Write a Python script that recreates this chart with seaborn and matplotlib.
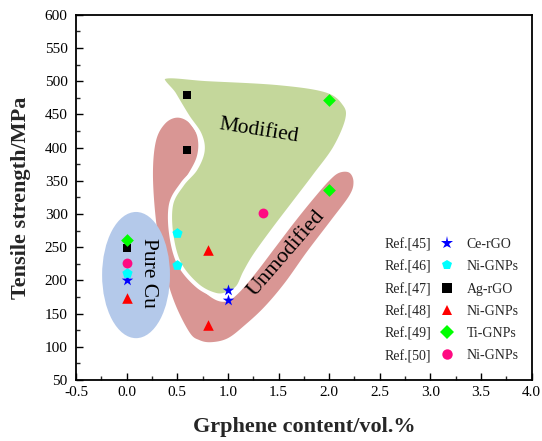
import numpy as np
import pandas as pd
import matplotlib
matplotlib.use("Agg")
import matplotlib.pyplot as plt
from matplotlib.patches import Ellipse
from matplotlib.lines import Line2D
import seaborn as sns

# ---------------- data ----------------
refs = ["Ref.[45]", "Ref.[46]", "Ref.[47]", "Ref.[48]", "Ref.[49]", "Ref.[50]"]
materials = ["Ce-rGO", "Ni-GNPs", "Ag-rGO", "Ni-GNPs", "Ti-GNPs", "Ni-GNPs"]
x_45 = [0.0, 1.0, 1.0]
y_45 = [200, 186, 171]
x_46 = [0.0, 0.5, 0.5]
y_46 = [211, 271, 223]
x_47 = [0.0, 0.6, 0.6]
y_47 = [249, 479, 397]
x_48 = [0.0, 0.8, 0.8]
y_48 = [174, 246, 133]
x_49 = [0.0, 2.0, 2.0]
y_49 = [261, 471, 336]
x_50 = [0.0, 1.35]
y_50 = [226, 301]

xs = [x_45, x_46, x_47, x_48, x_49, x_50]
ys = [y_45, y_46, y_47, y_48, y_49, y_50]
colors = ["#0000FF", "#00FFFF", "#000000", "#FF0000", "#00FF00", "#FF0A82"]
markers = ["*", "p", "s", "^", "D", "o"]
msizes = [75, 60, 38, 58, 42, 50]

# region outlines (data coordinates, smoothed below)
modified_x = [0.37, 0.80, 1.50, 1.97, 2.15, 2.18, 2.06, 1.86, 1.66, 1.45, 1.27, 1.17, 1.10,
              1.00, 0.88, 0.70, 0.52, 0.44, 0.44, 0.55, 0.68, 0.75, 0.72, 0.60, 0.47]
modified_y = [506, 503, 497, 486, 466, 443, 400, 358, 318, 276, 238, 212, 190,
              180, 178, 192, 225, 270, 315, 345, 368, 395, 420, 447, 480]
unmod_x = [0.84, 1.00, 1.17, 1.36, 1.56, 1.78, 2.02, 2.20, 2.24, 2.20, 2.10, 2.00, 1.84, 1.66,
           1.46, 1.27, 1.10, 0.98, 0.84, 0.66, 0.52, 0.46, 0.47, 0.57, 0.69, 0.70, 0.62,
           0.50, 0.38, 0.29, 0.26, 0.29, 0.36, 0.47, 0.62, 0.72]
unmod_y = [107, 113, 133, 160, 196, 243, 291, 328, 348, 362, 362, 350, 322, 288,
           248, 210, 180, 168, 174, 200, 240, 290, 320, 350, 385, 415, 437,
           445, 436, 410, 360, 290, 225, 168, 122, 110]
purecu_center = (0.093, 208)
purecu_size = (0.67, 190)

# ---------------- helpers ----------------
def closed_spline(px, py, n=24):
    P = np.column_stack([px, py]).astype(float)
    N = len(P)
    t = np.linspace(0, 1, n, endpoint=False)[:, None]
    out = []
    for i in range(N):
        p0, p1, p2, p3 = P[i - 1], P[i], P[(i + 1) % N], P[(i + 2) % N]
        seg = 0.5 * ((2 * p1) + (-p0 + p2) * t + (2 * p0 - 5 * p1 + 4 * p2 - p3) * t ** 2
                     + (-p0 + 3 * p1 - 3 * p2 + p3) * t ** 3)
        out.append(seg)
    return np.vstack(out)

# ---------------- plot ----------------
sns.set_theme(style="ticks")
plt.rcParams["font.family"] = ["Liberation Serif", "DejaVu Serif"]
plt.rcParams["mathtext.fontset"] = "stix"

fig = plt.figure(figsize=(5.42, 4.41), dpi=100)
ax = fig.add_axes([0.1402, 0.1383, 0.8408, 0.8284])

red = closed_spline(unmod_x, unmod_y)
ax.fill(red[:, 0], red[:, 1], color="#D99694", lw=0, zorder=1)
grn = closed_spline(modified_x, modified_y)
ax.fill(grn[:, 0], grn[:, 1], facecolor="#C4D79B", edgecolor="white", lw=3.0, zorder=2)
ax.add_patch(Ellipse(purecu_center, purecu_size[0], purecu_size[1],
                     facecolor="#B4C9EA", edgecolor="none", zorder=3))

for x, y, c, m, s in zip(xs, ys, colors, markers, msizes):
    df = pd.DataFrame({"x": x, "y": y})
    sns.scatterplot(data=df, x="x", y="y", color=c, marker=m, s=s, linewidth=0,
                    ax=ax, zorder=5, legend=False)

tfont = dict(fontsize=15.5, color="black", zorder=6, ha="center", va="center")
ax.text(1.30, 425, "Modified", rotation=-9, **tfont)
ax.text(1.58, 241, "Unmodified", rotation=49, fontsize=16, color="black", zorder=6,
        ha="center", va="center")
ax.text(0.214, 211, "Pure Cu", rotation=-90, **tfont)

ax.set_xlim(-0.5, 4.0)
ax.set_ylim(50, 600)
xt = np.arange(-0.5, 4.01, 0.5)
ax.set_xticks(xt)
ax.set_xticklabels([f"{v:.1f}" for v in xt])
ax.set_xticks(np.arange(-0.5, 4.01, 0.25), minor=True)
ax.set_yticks(np.arange(50, 601, 50))
ax.set_yticks(np.arange(50, 601, 25), minor=True)
ax.tick_params(which="major", direction="in", length=5, width=1.0, labelsize=11,
               colors="black")
ax.tick_params(axis="y", which="major", pad=6)
ax.tick_params(axis="x", which="major", pad=4)
ax.tick_params(which="minor", direction="in", length=3, width=1.0)
for sp in ax.spines.values():
    sp.set_linewidth(1.3)
    sp.set_color("black")

ax.set_xlabel("Grphene content/vol.%", fontsize=16, fontweight="bold", labelpad=13)
ax.set_ylabel("Tensile strength/MPa", fontsize=16, fontweight="bold", labelpad=10)

# legend: column of references, column of markers + material names
h_ref = [Line2D([], [], linestyle="none", marker=None) for _ in refs]
h_mat = [Line2D([], [], linestyle="none", marker=m, color=c, markersize=7.5 if m != "*" else 9.5,
                markeredgewidth=0) for m, c in zip(markers, colors)]
leg = ax.legend(h_ref + h_mat, refs + materials, ncol=2, frameon=False,
                loc="upper left", bbox_to_anchor=(0.62, 0.389),
                fontsize=10, handlelength=1.0, handletextpad=0.9,
                columnspacing=0.6, labelspacing=0.66, borderpad=0, borderaxespad=0)

fig.savefig("out.png", dpi=100)
